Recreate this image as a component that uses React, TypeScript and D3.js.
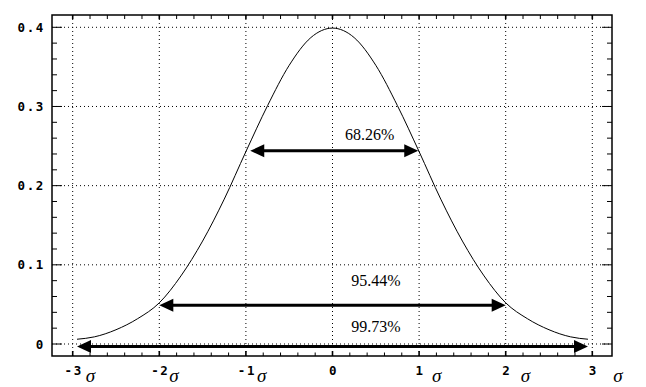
import React from "react";
import * as d3 from "d3";

// ---- data ----
const curveX = [-2.95, -2.75, -2.5, -2.25, -2, -1.75, -1.5, -1.25, -1, -0.75, -0.5, -0.25, 0, 0.25, 0.5, 0.75, 1, 1.25, 1.5, 1.75, 2, 2.25, 2.5, 2.75, 2.95];
const curveY = [0.006, 0.009, 0.018, 0.032, 0.052, 0.086, 0.13, 0.183, 0.243, 0.301, 0.352, 0.387, 0.399, 0.387, 0.352, 0.301, 0.243, 0.183, 0.13, 0.086, 0.052, 0.032, 0.018, 0.009, 0.006];

const xTickValues = [-3, -2, -1, 0, 1, 2, 3];
const xTickLabels = ["-3", "-2", "-1", "0", "1", "2", "3"];
const xSigma = ["σ", "σ", "σ", "", "σ", "σ", "σ"];
const yTickValues = [0, 0.1, 0.2, 0.3, 0.4];
const yTickLabels = ["0", "0.1", "0.2", "0.3", "0.4"];

const arrowLabels = ["68.26%", "95.44%", "99.73%"];
const arrowFrom = [-0.95, -2, -2.95];
const arrowTo = [0.99, 2, 2.95];
const arrowLevel = [0.244, 0.049, -0.003];

// ---- layout ----
const W = 646, H = 387;
const frame = { l: 52, r: 612, t: 15, b: 356 };
const sigmaDx = [13, 10, 11, 0, 13, 15, 21];
const labelPosX = [0.43, 0.5, 0.5];
const labelPosY = [0.2576, 0.0732, 0.015];

export default function App() {
  const x = d3.scaleLinear().domain([-3, 3]).range([72.7, 592.3]);
  const y = d3.scaleLinear().domain([0, 0.4]).range([344, 27.3]);

  const pts: [number, number][] = curveX.map((v, i) => [v, curveY[i]]);
  const line = d3
    .line<[number, number]>()
    .x((d) => x(d[0]))
    .y((d) => y(d[1]))
    .curve(d3.curveMonotoneX);

  const xMinor = d3.range(-3, 3.0001, 0.2);
  const yMinor = d3.range(0, 0.40001, 0.02);
  const isMajorX = (v: number) => Math.abs(v - Math.round(v)) < 1e-6;
  const isMajorY = (v: number) => Math.abs(v * 10 - Math.round(v * 10)) < 1e-6;

  const numFont = { fontFamily: "'DejaVu Sans Mono', monospace", fontWeight: 700, fontSize: 12.5, letterSpacing: 1.6 } as const;

  const arrowHead = (tipX: number, yy: number, dir: number) => {
    const len = 14, half = 6.5;
    return `M${tipX},${yy} L${tipX - dir * len},${yy - half} L${tipX - dir * len},${yy + half} Z`;
  };

  return (
    <svg width={W} height={H} style={{ position: "absolute", left: 0, top: 0, background: "#fff" }}>
      <rect x={0} y={0} width={W} height={H} fill="#fff" />
      {/* grid */}
      <g stroke="#000" strokeWidth={1} strokeDasharray="1,3">
        {xTickValues.map((v) => (
          <line key={"gx" + v} x1={x(v)} x2={x(v)} y1={frame.t} y2={frame.b} />
        ))}
        {yTickValues.map((v) => (
          <line key={"gy" + v} x1={frame.l} x2={frame.r} y1={y(v)} y2={y(v)} />
        ))}
      </g>
      {/* frame ticks */}
      <g stroke="#000" strokeWidth={1}>
        {yMinor.map((v, i) => {
          const L = isMajorY(v) ? 10 : 5;
          return (
            <g key={"yt" + i}>
              <line x1={frame.l} x2={frame.l + L} y1={y(v)} y2={y(v)} />
              <line x1={frame.r} x2={frame.r - L} y1={y(v)} y2={y(v)} />
            </g>
          );
        })}
        {xMinor.map((v, i) => {
          const M = isMajorX(v);
          const L = M ? 5 : 3.5;
          return (
            <g key={"xt" + i} strokeWidth={M ? 1.6 : 1}>
              <line x1={x(v)} x2={x(v)} y1={frame.b} y2={frame.b - L} />
              <line x1={x(v)} x2={x(v)} y1={frame.t} y2={frame.t + 4} />
            </g>
          );
        })}
      </g>
      <rect x={frame.l} y={frame.t} width={frame.r - frame.l} height={frame.b - frame.t} fill="none" stroke="#000" strokeWidth={1.5} />
      {/* curve */}
      <path d={line(pts) || ""} fill="none" stroke="#000" strokeWidth={1} />
      {/* arrows */}
      {arrowLabels.map((lab, i) => {
        const yy = y(arrowLevel[i]);
        const x1 = x(arrowFrom[i]);
        const x2 = x(arrowTo[i]);
        return (
          <g key={"ar" + i}>
            <line x1={x1 + 10} x2={x2 - 10} y1={yy} y2={yy} stroke="#000" strokeWidth={3} />
            <path d={arrowHead(x1, yy, -1)} fill="#000" />
            <path d={arrowHead(x2, yy, 1)} fill="#000" />
            <text
              x={x(labelPosX[i])}
              y={y(labelPosY[i])}
              textAnchor="middle"
              style={{ fontFamily: "'Liberation Serif', 'Times New Roman', serif", fontSize: 16 }}
              fill="#000"
            >
              {lab}
            </text>
          </g>
        );
      })}
      {/* y labels */}
      {yTickValues.map((v, i) => (
        <text key={"yl" + i} x={45} y={y(v)} dy="0.36em" textAnchor="end" style={numFont} fill="#000">
          {yTickLabels[i]}
        </text>
      ))}
      {/* x labels */}
      {xTickValues.map((v, i) => (
        <g key={"xl" + i}>
          <text x={x(v) + 1} y={375} textAnchor="middle" style={numFont} fill="#000">
            {xTickLabels[i]}
          </text>
          {xSigma[i] && (
            <text
              x={x(v) + sigmaDx[i]}
              y={382}
              style={{ fontFamily: "'Liberation Serif', 'Times New Roman', serif", fontStyle: "italic", fontSize: 19 }}
              fill="#000"
            >
              {xSigma[i]}
            </text>
          )}
        </g>
      ))}
    </svg>
  );
}
